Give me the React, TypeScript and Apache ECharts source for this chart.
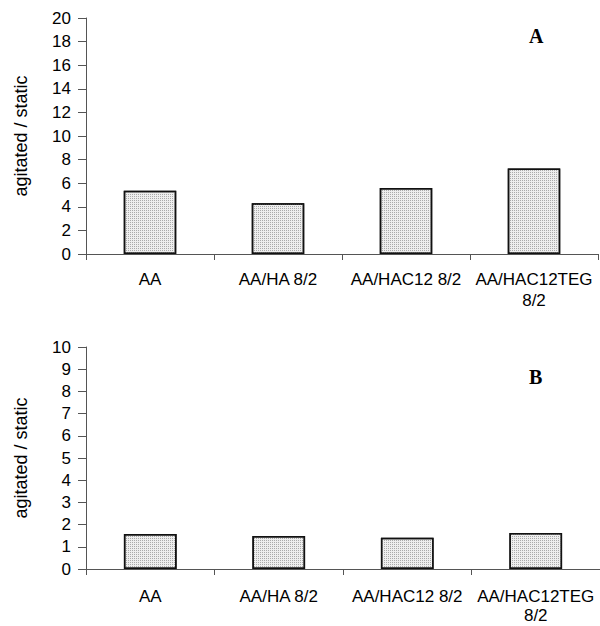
import React, { useEffect, useRef } from "react";
import * as echarts from "echarts";

const categories = ["AA", "AA/HA 8/2", "AA/HAC12 8/2", "AA/HAC12TEG\n8/2"];
const valuesA = [5.35, 4.3, 5.6, 7.25];
const valuesB = [1.58, 1.49, 1.41, 1.62];
const yTicksA = { min: 0, max: 20, interval: 2 };
const yTicksB = { min: 0, max: 10, interval: 1 };
const yTitle = "agitated / static";
const panelLetters = ["A", "B"];

export default function App() {
  const ref = useRef<HTMLDivElement>(null);
  useEffect(() => {
    if (!ref.current) return;
    const chart = echarts.init(ref.current, undefined, { renderer: "svg" });
    const font = "'Liberation Sans', Arial, sans-serif";
    const axisColor = "#555";
    const mkX = (gridIndex: number, margin: number, lh: number) => ({
      type: "category" as const,
      gridIndex,
      data: categories,
      axisLine: { lineStyle: { color: axisColor, width: 1 } },
      axisTick: { show: true, length: 6, lineStyle: { color: axisColor } },
      axisLabel: {
        color: "#000",
        fontFamily: font,
        fontSize: 17,
        margin,
        lineHeight: lh,
        interval: 0,
      },
    });
    const mkY = (gridIndex: number, t: { min: number; max: number; interval: number }) => ({
      type: "value" as const,
      gridIndex,
      min: t.min,
      max: t.max,
      interval: t.interval,
      name: yTitle,
      nameLocation: "middle" as const,
      nameGap: 56,
      nameTextStyle: { color: "#000", fontFamily: font, fontSize: 18 },
      splitLine: { show: false },
      axisLine: { show: true, lineStyle: { color: axisColor, width: 1 } },
      axisTick: { show: true, length: 8, lineStyle: { color: axisColor } },
      axisLabel: { color: "#000", fontFamily: font, fontSize: 17, margin: 15 },
    });
    const barStyle = {
      color: "#eeeeee",
      borderColor: "#111",
      borderWidth: 1.5,
      decal: {
        symbol: "rect",
        symbolSize: 1,
        dashArrayX: [1, 1],
        dashArrayY: [1, 1],
        color: "#aaaaaa",
        backgroundColor: "#eeeeee",
        rotation: 0,
      },
    };
    chart.setOption({
      animation: false,
      grid: [
        { left: 86, top: 18, width: 512, height: 236 },
        { left: 86, top: 347, width: 522, height: 222 },
      ],
      xAxis: [mkX(0, 15, 21), mkX(1, 18, 19)],
      yAxis: [mkY(0, yTicksA), mkY(1, yTicksB)],
      series: [
        {
          type: "bar",
          xAxisIndex: 0,
          yAxisIndex: 0,
          data: valuesA,
          barWidth: "41%",
          itemStyle: barStyle,
        },
        {
          type: "bar",
          xAxisIndex: 1,
          yAxisIndex: 1,
          data: valuesB,
          barWidth: "41%",
          itemStyle: barStyle,
        },
      ],
      graphic: [
        {
          type: "text",
          left: 529,
          top: 26,
          style: {
            text: panelLetters[0],
            fill: "#000",
            font: "bold 20px 'Liberation Serif', 'Times New Roman', serif",
          },
        },
        {
          type: "text",
          left: 529,
          top: 367,
          style: {
            text: panelLetters[1],
            fill: "#000",
            font: "bold 20px 'Liberation Serif', 'Times New Roman', serif",
          },
        },
      ],
    });
    return () => chart.dispose();
  }, []);
  return (
    <div
      ref={ref}
      style={{ position: "absolute", left: 0, top: 0, width: 600, height: 626, background: "#fff" }}
    />
  );
}
